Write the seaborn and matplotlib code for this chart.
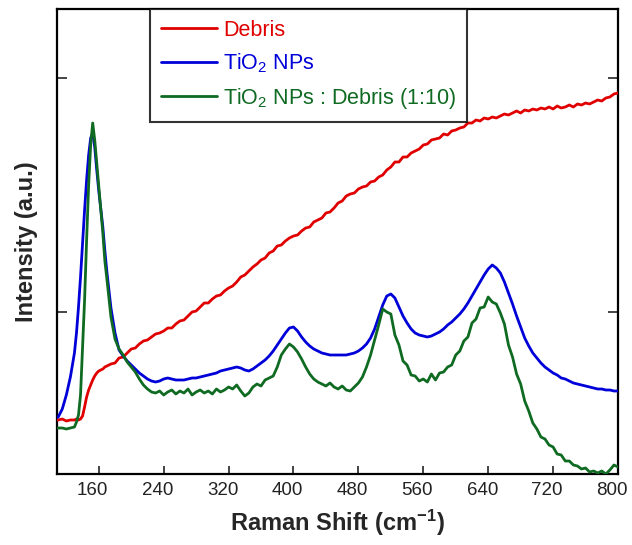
import numpy as np
import pandas as pd
import matplotlib
matplotlib.use("Agg")
import matplotlib.pyplot as plt
import matplotlib.transforms as mtransforms
from matplotlib.lines import Line2D
import seaborn as sns

# Raman shift grid (cm-1): finer steps around the sharp 150 cm-1 band
shift = np.concatenate([np.arange(105, 130, 5),
                        np.arange(130, 170, 2.5),
                        np.arange(170, 805, 5)])

# intensities (arbitrary units)
debris = [55, 55, 56, 54, 55,
          55, 56, 55, 56, 59, 68, 78, 85, 90, 95, 99, 102, 104, 105, 106, 108,
          109, 111, 112, 117, 118, 122,
          126, 127, 131, 134, 135, 138, 141, 142, 144, 147, 147, 151, 154, 155, 159, 163, 164, 168, 172, 172,
          176, 179, 180, 184, 187, 189, 193, 198, 200, 204, 208, 211, 215, 217, 222, 224, 229, 230, 234, 237,
          239, 240, 244, 247, 248, 253, 255, 257, 262, 263, 267, 272, 274, 279, 281, 282, 286, 288, 289, 293,
          294, 298, 300, 305, 308, 313, 313, 318, 318, 322, 324, 326, 330, 331, 335, 336, 337, 341, 340, 344,
          345, 347, 348, 352, 352, 355, 354, 357, 356, 358, 357, 359, 361, 360, 362, 364, 362, 365, 364, 366,
          365, 367, 366, 368, 366, 369, 367, 368, 370, 368, 371, 370, 372, 371, 373, 375, 374, 377, 378, 381,
          382]

tio2 = [57, 58, 66, 80, 98,
        122, 142, 168, 198, 232, 265, 295, 320, 337, 342, 328, 305, 284, 266, 248, 224,
        203, 167, 142, 125, 119, 114,
        110, 106, 102, 99, 96, 94, 93, 94, 96, 97, 96, 95, 95, 95, 96, 97, 97, 98, 99, 100,
        101, 102, 104, 105, 106, 107, 108, 107, 105, 104, 106, 109, 112, 115, 119, 124, 130, 136, 142, 147,
        148, 144, 138, 133, 129, 126, 124, 122, 121, 120, 120, 120, 120, 120, 121, 122, 124, 127, 131, 137,
        146, 158, 170, 179, 181, 177, 168, 159, 152, 146, 142, 140, 139, 138, 139, 141, 143, 146, 150, 153,
        157, 161, 166, 172, 179, 186, 193, 200, 206, 210, 207, 202, 193, 182, 171, 159, 148, 137, 129, 122,
        117, 112, 108, 105, 102, 100, 97, 96, 94, 92, 91, 90, 89, 88, 87, 86, 86, 85, 85, 84,
        84]

mix = [47, 47, 47, 46, 47,
       48, 53, 60, 80, 128, 175, 235, 290, 330, 352, 335, 312, 288, 266, 242, 214,
       196, 158, 136, 126, 120, 113,
       108, 103, 96, 90, 86, 83, 82, 84, 80, 83, 85, 81, 84, 82, 86, 80, 83, 85, 82, 84,
       81, 86, 83, 85, 88, 86, 90, 84, 79, 82, 88, 91, 89, 95, 97, 99, 108, 120, 126, 131,
       128, 123, 116, 108, 101, 96, 93, 91, 89, 92, 88, 86, 89, 85, 84, 88, 92, 98, 108, 120,
       135, 150, 166, 163, 161, 140, 130, 114, 110, 100, 99, 94, 96, 93, 101, 95, 102, 103, 108, 110,
       120, 124, 134, 138, 152, 156, 167, 168, 178, 173, 171, 162, 151, 130, 118, 101, 91, 74, 64, 52,
       46, 38, 36, 30, 28, 21, 20, 14, 14, 10, 9, 6, 7, 3, 4, 2, 4, 1, 5, 10,
       8]

names = ["Debris", "TiO$_2$ NPs", "TiO$_2$ NPs : Debris (1:10)"]
colors = ["#e00000", "#0000d8", "#0f6a22"]

df = pd.DataFrame({"shift": shift, names[0]: debris, names[1]: tio2, names[2]: mix})
long_df = df.melt(id_vars="shift", var_name="sample", value_name="intensity")

sns.set_theme(style="white")
plt.rcParams["font.family"] = ["Liberation Sans", "DejaVu Sans"]
plt.rcParams["mathtext.fontset"] = "custom"
plt.rcParams["mathtext.rm"] = "Liberation Sans"
plt.rcParams["mathtext.bf"] = "Liberation Sans:bold"
plt.rcParams["mathtext.default"] = "regular"

fig = plt.figure(figsize=(6.32, 5.45), dpi=100)
ax = fig.add_axes([57 / 632, 71 / 545, 561 / 632, 465 / 545])

# draw red, green, then blue on top
for i in [0, 2, 1]:
    sns.lineplot(data=long_df[long_df["sample"] == names[i]], x="shift", y="intensity",
                 color=colors[i], linewidth=2, estimator=None, sort=False,
                 legend=False, ax=ax, zorder=3 + i)

ax.set_xlim(108.5, 797)
ax.set_ylim(1, 466)

for side in ["left", "bottom", "top", "right"]:
    ax.spines[side].set_color("black")
    ax.spines[side].set_linewidth(1.6)

ax.set_xticks([160, 240, 320, 400, 480, 560, 640, 720, 800])
ax.tick_params(axis="x", direction="in", length=6, width=1.2, labelsize=13.5, pad=6,
               colors="#222222", top=False, bottom=True)
for k, t in enumerate(ax.xaxis.get_major_ticks()):
    t.tick1line.set_color("#c8c8c8" if k % 2 == 0 else "#404040")

ax.set_yticks([163, 397])
ax.tick_params(axis="y", direction="in", length=7, width=1.2, left=True, right=True,
               labelleft=False)
for k, t in enumerate(ax.yaxis.get_major_ticks()):
    c = "#404040" if k == 0 else "#b0b0b0"
    t.tick1line.set_color(c)
    t.tick2line.set_color(c)

# tick labels sit a little left of their ticks in the original
offset = mtransforms.ScaledTranslation(-0.06, 0, fig.dpi_scale_trans)
for lab in ax.get_xticklabels():
    lab.set_transform(lab.get_transform() + offset)

ax.set_xlabel("Raman Shift (cm$^{-1}$)", fontsize=17, fontweight="bold", labelpad=6)
ax.set_ylabel("Intensity (a.u.)", fontsize=17, fontweight="bold", labelpad=14)

handles = [Line2D([], [], color=c, linewidth=2) for c in colors]
leg = ax.legend(handles, names, loc="upper left", bbox_to_anchor=(0.166, 1.0),
                frameon=True, fancybox=False, edgecolor="black", fontsize=15.5,
                handlelength=2.6, handletextpad=0.3, labelspacing=0.5,
                borderpad=0.5, borderaxespad=0)
leg.get_frame().set_linewidth(1.5)
for txt, c in zip(leg.get_texts(), colors):
    txt.set_color(c)

fig.savefig("out.png", dpi=100)
